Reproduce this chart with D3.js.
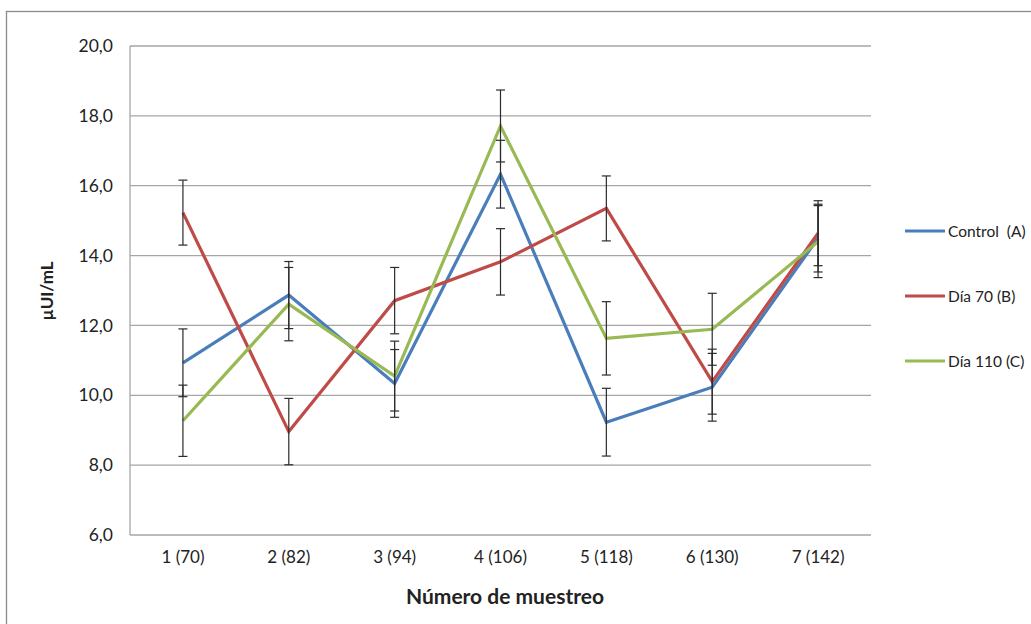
<!DOCTYPE html>
<html>
<head>
<meta charset="utf-8">
<script src="https://cdn.jsdelivr.net/npm/d3@7"></script>
<style>
  html, body { margin: 0; padding: 0; background: #fff; }
  svg { display: block; font-family: Lato, "Open Sans", sans-serif; }
</style>
</head>
<body>
<svg id="chart" width="1031" height="624"></svg>
<script>
// Sampling points (sample number and day)
const categories = ["1 (70)", "2 (82)", "3 (94)", "4 (106)", "5 (118)", "6 (130)", "7 (142)"];

// Mean concentration per group (µUI/mL)
const controlA = [10.93, 12.87, 10.34, 16.33, 9.23, 10.23, 14.50];
const dia70B   = [15.23, 8.96, 12.71, 13.82, 15.35, 10.39, 14.64];
const dia110C  = [9.27, 12.61, 10.55, 17.71, 11.63, 11.89, 14.40];

// Error bar half-widths per group
const controlErr = [0.97, 0.96, 0.97, 0.97, 0.97, 0.97, 0.97];
const dia70Err   = [0.93, 0.95, 0.95, 0.95, 0.93, 0.93, 0.93];
const dia110Err  = [1.02, 1.05, 1.00, 1.03, 1.05, 1.03, 1.03];

const yTicks = [6, 8, 10, 12, 14, 16, 18, 20];

const series = [
  { name: "Control  (A)", values: controlA, err: controlErr, color: "#4A7EBB" },
  { name: "Día 70 (B)",   values: dia70B,   err: dia70Err,   color: "#BE4B48" },
  { name: "Día 110 (C)",  values: dia110C,  err: dia110Err,  color: "#98B954" }
];

const svg = d3.select("#chart");
const plot = { left: 130, right: 871, top: 46, bottom: 535 };

// Outer chart frame
svg.append("rect")
  .attr("x", 6.5).attr("y", 11.5)
  .attr("width", 1040).attr("height", 640)
  .attr("fill", "none").attr("stroke", "#8c8c8c").attr("stroke-width", 1.3);

const x = d3.scaleBand().domain(categories).range([plot.left, plot.right]);
const y = d3.scaleLinear().domain([6, 20]).range([plot.bottom, plot.top]);

// Horizontal gridlines
svg.append("g")
  .selectAll("line").data(yTicks).join("line")
  .attr("x1", plot.left).attr("x2", plot.right)
  .attr("y1", d => y(d)).attr("y2", d => y(d))
  .attr("stroke", "#a6a6a6").attr("stroke-width", 1.3);

// Vertical axis line
svg.append("line")
  .attr("x1", plot.left).attr("x2", plot.left)
  .attr("y1", plot.top).attr("y2", plot.bottom)
  .attr("stroke", "#a6a6a6").attr("stroke-width", 1.3);

// Y axis labels
const fmt = d => d.toFixed(1).replace(".", ",");
const yAxis = d3.axisLeft(y).tickValues(yTicks).tickFormat(fmt).tickSize(0).tickPadding(17);
const gy = svg.append("g").attr("transform", `translate(${plot.left},0)`).call(yAxis);
gy.select(".domain").remove();
gy.selectAll("text")
  .attr("font-family", "Lato, 'Open Sans', sans-serif")
  .attr("font-size", 17.5).attr("fill", "#222");

// X axis labels
const xAxis = d3.axisBottom(x).tickSize(0).tickPadding(16);
const gx = svg.append("g").attr("transform", `translate(0,${plot.bottom})`).call(xAxis);
gx.select(".domain").remove();
gx.selectAll("text")
  .attr("font-family", "Lato, 'Open Sans', sans-serif")
  .attr("font-size", 17).attr("fill", "#222");

const cx = c => x(c) + x.bandwidth() / 2;

// Series lines
const line = d3.line().x((d, i) => cx(categories[i])).y(d => y(d));
svg.append("g")
  .selectAll("path").data(series).join("path")
  .attr("d", s => line(s.values))
  .attr("fill", "none")
  .attr("stroke", s => s.color)
  .attr("stroke-width", 3.2)
  .attr("stroke-linejoin", "miter");

// Error bars
const bars = [];
series.forEach(s => s.values.forEach((v, i) => bars.push({ c: categories[i], v, e: s.err[i] })));
const eb = svg.append("g").attr("stroke", "#2b2b2b").attr("stroke-width", 1.2);
eb.selectAll("line.v").data(bars).join("line").attr("class", "v")
  .attr("x1", d => cx(d.c)).attr("x2", d => cx(d.c))
  .attr("y1", d => y(d.v - d.e)).attr("y2", d => y(d.v + d.e));
eb.selectAll("line.t").data(bars).join("line").attr("class", "t")
  .attr("x1", d => cx(d.c) - 4.5).attr("x2", d => cx(d.c) + 4.5)
  .attr("y1", d => y(d.v + d.e)).attr("y2", d => y(d.v + d.e));
eb.selectAll("line.b").data(bars).join("line").attr("class", "b")
  .attr("x1", d => cx(d.c) - 4.5).attr("x2", d => cx(d.c) + 4.5)
  .attr("y1", d => y(d.v - d.e)).attr("y2", d => y(d.v - d.e));

// Axis titles
svg.append("text")
  .attr("x", 505).attr("y", 595)
  .attr("text-anchor", "middle").attr("dominant-baseline", "central")
  .attr("font-size", 21).attr("font-weight", "bold").attr("fill", "#222")
  .text("Número de muestreo");

svg.append("text")
  .attr("transform", "translate(46,291) rotate(-90)")
  .attr("text-anchor", "middle").attr("dominant-baseline", "central")
  .attr("font-size", 17).attr("font-weight", "bold").attr("fill", "#222")
  .text("µUI/mL");

// Legend
const legendY = [231, 296, 361];
const lg = svg.append("g").selectAll("g").data(series).join("g")
  .attr("transform", (s, i) => `translate(905,${legendY[i]})`);
lg.append("line").attr("x1", 0).attr("x2", 40).attr("y1", 0).attr("y2", 0)
  .attr("stroke", s => s.color).attr("stroke-width", 3.2);
lg.append("text").attr("x", 43).attr("y", 0)
  .attr("dominant-baseline", "central")
  .attr("font-size", 15.5).attr("fill", "#222")
  .attr("xml:space", "preserve").style("white-space", "pre")
  .text(s => s.name);
</script>
</body>
</html>
